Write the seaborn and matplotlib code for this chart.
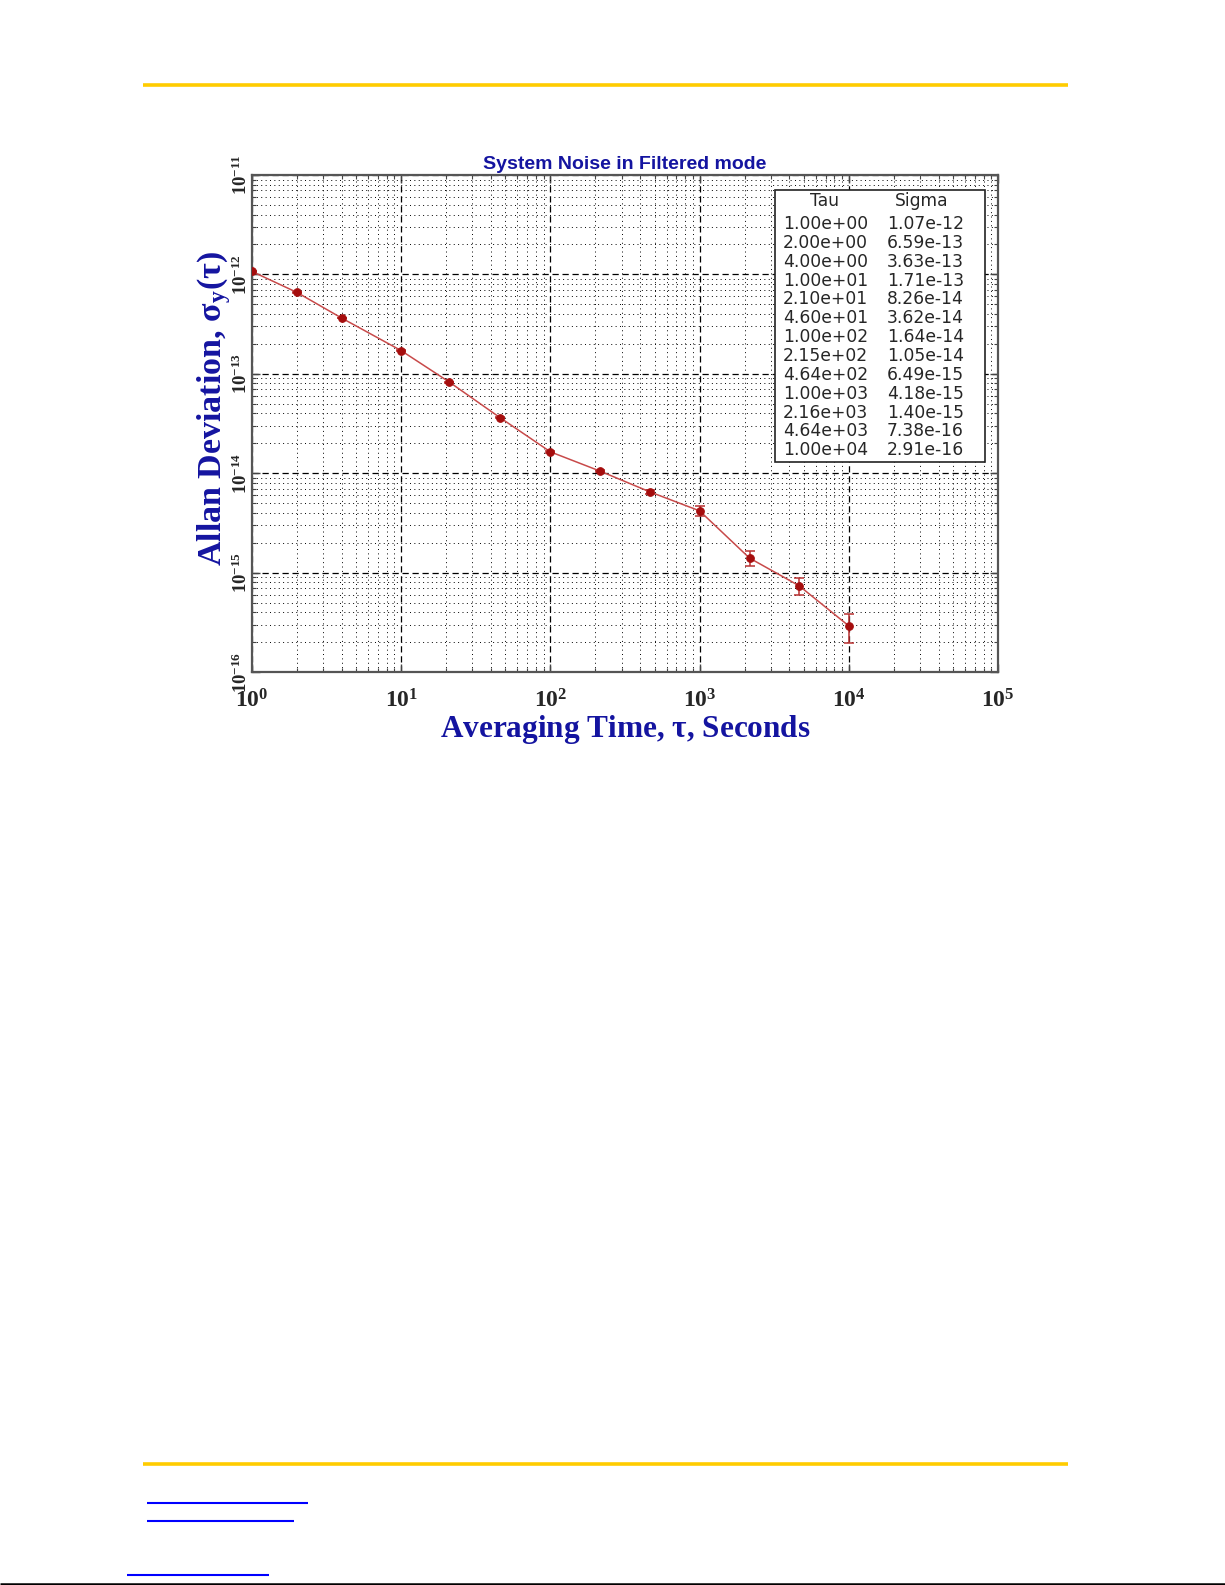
import numpy as np
import matplotlib
matplotlib.use('Agg')
import matplotlib.pyplot as plt
from matplotlib.patches import Rectangle
from matplotlib.lines import Line2D
from matplotlib.ticker import LogLocator, NullFormatter
import seaborn as sns

# Data (tau in seconds, Allan deviation)
tau = [1.00e+00, 2.00e+00, 4.00e+00, 1.00e+01, 2.10e+01, 4.60e+01, 1.00e+02,
       2.15e+02, 4.64e+02, 1.00e+03, 2.16e+03, 4.64e+03, 1.00e+04]
sigma = [1.07e-12, 6.59e-13, 3.63e-13, 1.71e-13, 8.26e-14, 3.62e-14, 1.64e-14,
         1.05e-14, 6.49e-15, 4.18e-15, 1.40e-15, 7.38e-16, 2.91e-16]
sigma_err = [6e-15, 4e-15, 2.5e-15, 1.5e-15, 1.0e-15, 6e-16, 3e-16,
             2.5e-16, 3e-16, 4.5e-16, 2.4e-16, 1.4e-16, 0.95e-16]
tau_labels = ['1.00e+00', '2.00e+00', '4.00e+00', '1.00e+01', '2.10e+01', '4.60e+01',
              '1.00e+02', '2.15e+02', '4.64e+02', '1.00e+03', '2.16e+03', '4.64e+03', '1.00e+04']
sigma_labels = ['1.07e-12', '6.59e-13', '3.63e-13', '1.71e-13', '8.26e-14', '3.62e-14',
                '1.64e-14', '1.05e-14', '6.49e-15', '4.18e-15', '1.40e-15', '7.38e-16', '2.91e-16']
x_decades = [0, 1, 2, 3, 4, 5]
y_decades = [-16, -15, -14, -13, -12, -11]

sns.set_style('ticks')
plt.rcParams['mathtext.fontset'] = 'custom'
plt.rcParams['mathtext.rm'] = 'Liberation Serif'
plt.rcParams['mathtext.it'] = 'Liberation Serif:italic'
plt.rcParams['mathtext.bf'] = 'Liberation Serif:bold'
plt.rcParams['font.family'] = ['DejaVu Sans']

W, H = 1225, 1585
fig = plt.figure(figsize=(W / 100, H / 100), dpi=100)


def fx(x):
    return x / W


def fy(y):
    return 1 - y / H


ax = fig.add_axes([fx(252), fy(672), fx(998) - fx(252), fy(175) - fy(672)])

line_col = '#c84a4a'
mark_col = '#a50d0d'
blue = '#1414a0'

sns.lineplot(x=tau, y=sigma, ax=ax, color=line_col, lw=1.1, marker='o',
             markersize=5.5, markerfacecolor=mark_col, markeredgecolor=mark_col,
             zorder=4)
ax.errorbar(tau, sigma, yerr=sigma_err, fmt='none', ecolor='#b83030',
            elinewidth=1.1, capsize=3.5, capthick=1.1, zorder=3)

ax.set_xscale('log')
ax.set_yscale('log')
ax.set_xlim(10.0 ** x_decades[0], 10.0 ** x_decades[-1])
ax.set_ylim(10.0 ** y_decades[0], 10.0 ** y_decades[-1])

ax.set_xticks([10.0 ** d for d in x_decades])
ax.set_xticklabels([r'$\mathbf{10^{%d}}$' % d for d in x_decades], fontsize=17)
ax.set_yticks([10.0 ** d for d in y_decades])
ax.set_yticklabels([r'$\mathbf{10^{%d}}$' % d for d in y_decades], fontsize=13.5,
                   rotation=90, va='center')
ax.xaxis.set_minor_locator(LogLocator(base=10, subs=np.arange(2, 10), numticks=20))
ax.yaxis.set_minor_locator(LogLocator(base=10, subs=np.arange(2, 10), numticks=20))
ax.xaxis.set_minor_formatter(NullFormatter())
ax.yaxis.set_minor_formatter(NullFormatter())
ax.tick_params(which='both', direction='in', top=True, right=True, color='#444444')
ax.tick_params(which='major', length=6, width=1)
ax.tick_params(which='minor', length=3, width=0.8)
ax.tick_params(axis='x', pad=12)
ax.tick_params(axis='y', pad=1)

ax.grid(which='major', color='k', ls=(0, (5, 3)), lw=0.9)
ax.grid(which='minor', color='k', ls=(0, (1, 3.5)), lw=0.7)
for sp in ax.spines.values():
    sp.set_color('#555555')
    sp.set_linewidth(1.6)

ax.set_title('System Noise in Filtered mode', fontsize=14, color=blue,
             family='Liberation Sans', fontweight='bold', pad=4)
ax.set_xlabel(r'Averaging Time, $\mathbf{\tau}$, Seconds', fontsize=22.5, color=blue,
              family='Liberation Serif', fontweight='bold')
ax.set_ylabel(r'Allan Deviation, $\mathbf{\sigma_y(\tau)}$', fontsize=24.5, color=blue,
              family='Liberation Serif', fontweight='bold')
ax.xaxis.set_label_coords(0.5, -0.083)
ax.yaxis.set_label_coords(-0.026, 0.53)

# value table inside the plot
fig.add_artist(Rectangle((fx(775), fy(462)), fx(985) - fx(775), fy(190) - fy(462),
                         transform=fig.transFigure, facecolor='white',
                         edgecolor='#222222', lw=1.2, zorder=5))
tfs = 12.3
fig.text(fx(825), fy(201), 'Tau', ha='center', va='center', fontsize=tfs, zorder=6)
fig.text(fx(922), fy(201), 'Sigma', ha='center', va='center', fontsize=tfs, zorder=6)
for i, (t, s) in enumerate(zip(tau_labels, sigma_labels)):
    yy = 224 + i * 18.85
    fig.text(fx(783), fy(yy), t, ha='left', va='center', fontsize=tfs, zorder=6)
    fig.text(fx(887), fy(yy), s, ha='left', va='center', fontsize=tfs, zorder=6)

# page decorations
def hline(x0, x1, y, color, lw):
    fig.add_artist(Line2D([fx(x0), fx(x1)], [fy(y), fy(y)], transform=fig.transFigure,
                          color=color, lw=lw, solid_capstyle='butt'))


hline(143, 1068, 85, '#ffcc00', 2.6)
hline(143, 1068, 1464, '#ffcc00', 2.6)
hline(147, 308, 1503, '#0000ff', 1.5)
hline(147, 294, 1521, '#0000ff', 1.5)
hline(127, 269, 1575, '#0000ff', 1.5)
hline(0, 1225, 1584, '#000000', 1.8)

fig.savefig('out.png', dpi=100)
